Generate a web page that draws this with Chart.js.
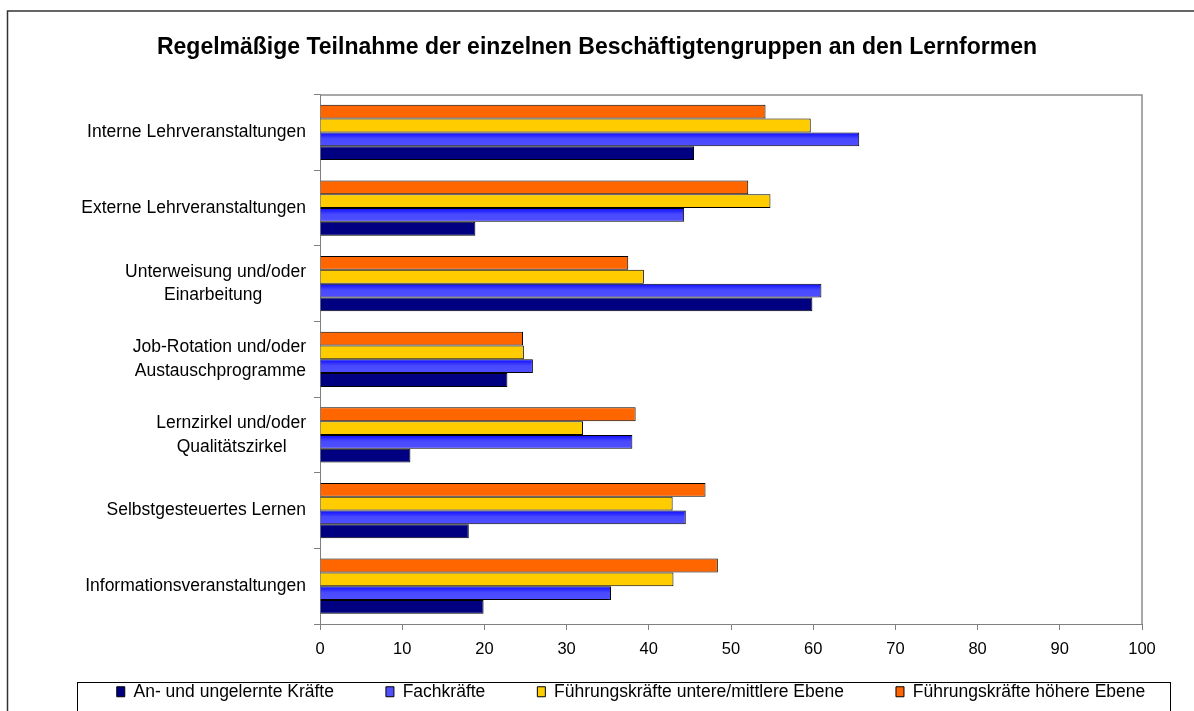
<!DOCTYPE html>
<html>
<head>
<meta charset="utf-8">
<script src="https://cdn.jsdelivr.net/npm/chart.js@4.4.1/dist/chart.umd.min.js"></script>
<style>
  html, body { margin: 0; padding: 0; background: #fff; overflow: hidden; }
  #wrap { width: 1194px; height: 711px; }
</style>
</head>
<body>
<div id="wrap"><canvas id="chart" width="1194" height="711"></canvas></div>
<script>
const categories = [
  'Interne Lehrveranstaltungen',
  'Externe Lehrveranstaltungen',
  ['Unterweisung und/oder', 'Einarbeitung'],
  ['Job-Rotation und/oder', 'Austauschprogramme'],
  ['Lernzirkel und/oder', 'Qualitätszirkel'],
  'Selbstgesteuertes Lernen',
  'Informationsveranstaltungen'
];

const seriesNames = [
  'An- und ungelernte Kräfte',
  'Fachkräfte',
  'Führungskräfte untere/mittlere Ebene',
  'Führungskräfte höhere Ebene'
];

const ungelernte = [45.5, 18.9, 59.9, 22.8, 11.0, 18.1, 19.9];
const fachkraefte = [65.6, 44.3, 61.0, 25.9, 38.0, 44.5, 35.4];
const fuehrungUntere = [59.7, 54.8, 39.4, 24.8, 32.0, 42.9, 43.0];
const fuehrungHoehere = [54.2, 52.1, 37.5, 24.7, 38.4, 46.9, 48.4];

const xMin = 0;
const xMax = 100;
const xStep = 10;

const FONT = '"Liberation Sans", Arial, sans-serif';
const LABEL_SIZE = 17.5;
const CAT_PCT = 0.73;

// two-line category labels are centred on each other, like the original
const measureCtx = document.createElement('canvas').getContext('2d');
function centerLines(label) {
  if (!Array.isArray(label)) return label;
  measureCtx.font = `${LABEL_SIZE}px ${FONT}`;
  const widths = label.map((l) => measureCtx.measureText(l).width);
  const max = Math.max(...widths);
  const sp = measureCtx.measureText(' ').width;
  return label.map((l, i) => l + ' '.repeat(Math.round((max - widths[i]) / 2 / sp)));
}

// blue bars get the old office-style vertical gradient
function blueFill(ctx) {
  const chart = ctx.chart;
  const yScale = chart.scales && chart.scales.y;
  if (ctx.dataIndex === undefined || !yScale || !chart.chartArea) return '#4040ff';
  const c = yScale.getPixelForValue(ctx.dataIndex);
  const band = Math.abs(yScale.getPixelForValue(1) - yScale.getPixelForValue(0));
  const t = band * CAT_PCT / 4;
  const g = chart.ctx.createLinearGradient(0, c, 0, c + t);
  g.addColorStop(0, '#0a0aff');
  g.addColorStop(0.45, '#4848ff');
  g.addColorStop(1, '#5050ff');
  return g;
}

const framePlugin = {
  id: 'frame',
  beforeDraw(chart) {
    const ctx = chart.ctx;
    ctx.save();
    ctx.fillStyle = '#fff';
    ctx.fillRect(0, 0, chart.width, chart.height);
    ctx.restore();
  },
  afterLayout(chart) {
    chart.titleBlock.left = 0;
    chart.titleBlock.right = 1194;
    // legend sits inside its framed box, centred a bit right of the canvas
    const lg = chart.legend;
    lg.left = 0;
    lg.right = 1262;
    lg.top = 631;
    lg.bottom = 711;
  },
  afterDraw(chart) {
    const ctx = chart.ctx;
    const a = chart.chartArea;
    ctx.save();
    ctx.strokeStyle = '#8c8c8c';
    ctx.lineWidth = 1.5;
    ctx.beginPath();
    ctx.moveTo(a.left, a.top + 0.5);
    ctx.lineTo(a.right, a.top + 0.5);
    ctx.lineTo(a.right, a.bottom);
    ctx.stroke();
    ctx.strokeStyle = '#333';
    ctx.lineWidth = 1.5;
    ctx.strokeRect(7.5, 11, 1300, 800);
    ctx.strokeStyle = '#000';
    ctx.lineWidth = 1;
    ctx.strokeRect(77.5, 682.5, 1093, 60);
    ctx.restore();
  }
};

new Chart(document.getElementById('chart'), {
  type: 'bar',
  data: {
    labels: categories,
    datasets: [
      { label: seriesNames[3], data: fuehrungHoehere, backgroundColor: '#ff6600' },
      { label: seriesNames[2], data: fuehrungUntere, backgroundColor: '#ffcc00' },
      { label: seriesNames[1], data: fachkraefte, backgroundColor: blueFill },
      { label: seriesNames[0], data: ungelernte, backgroundColor: '#000080' }
    ].map((ds) => ({
      ...ds,
      borderColor: '#000',
      borderWidth: 1,
      categoryPercentage: CAT_PCT,
      barPercentage: 1
    }))
  },
  options: {
    indexAxis: 'y',
    responsive: false,
    animation: false,
    devicePixelRatio: 1,
    layout: { padding: { left: 0, right: 52, top: 0, bottom: 0 } },
    scales: {
      x: {
        min: xMin,
        max: xMax,
        ticks: { stepSize: xStep, color: '#000', font: { family: FONT, size: 16.5 }, padding: 10 },
        grid: { drawOnChartArea: false, drawTicks: true, tickLength: 6, color: '#808080' },
        border: { color: '#808080', width: 1 },
        afterFit(scale) { scale.height = 47; }
      },
      y: {
        ticks: {
          color: '#000',
          font: { family: FONT, size: LABEL_SIZE, lineHeight: 1.35 },
          padding: 8,
          autoSkip: false,
          callback(value) { return centerLines(this.getLabelForValue(value)); }
        },
        grid: { drawOnChartArea: false, drawTicks: true, tickLength: 6, color: '#808080', offset: true },
        border: { color: '#808080', width: 1 },
        afterFit(scale) { scale.width = 320; }
      }
    },
    plugins: {
      title: {
        display: true,
        text: 'Regelmäßige Teilnahme der einzelnen Beschäftigtengruppen an den Lernformen',
        color: '#000',
        font: { family: FONT, size: 23, weight: 'bold', lineHeight: 1.2 },
        padding: { top: 34, bottom: 33 }
      },
      legend: {
        position: 'bottom',
        reverse: true,
        maxHeight: 40,
        labels: {
          boxWidth: 8,
          boxHeight: 10,
          padding: 52,
          color: '#000',
          font: { family: FONT, size: 17.5 }
        }
      },
      tooltip: { enabled: false }
    }
  },
  plugins: [framePlugin]
});
</script>
</body>
</html>
